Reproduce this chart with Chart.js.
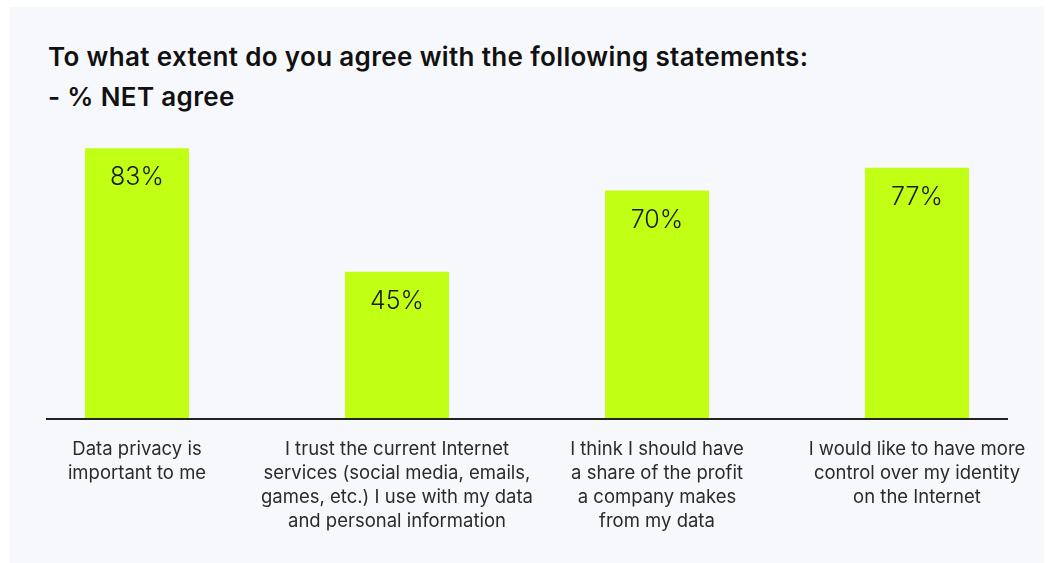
<!DOCTYPE html>
<html>
<head>
<meta charset="utf-8">
<script src="https://cdn.jsdelivr.net/npm/chart.js@4.4.1/dist/chart.umd.min.js"></script>
<style>
  html, body { margin: 0; padding: 0; background: #ffffff; width: 1050px; height: 563px; overflow: hidden; }
  #panel { position: absolute; left: 10px; top: 7px; width: 1034px; height: 556px; background: #f7f8fc; }
  #title { position: absolute; left: 48px; top: 37px; margin: 0; font: 600 26px/40px Inter, sans-serif; letter-spacing: 0.35px; color: #111111; }
  #wrap { position: absolute; left: 0; top: 0; width: 1050px; height: 563px; }
</style>
</head>
<body>
<div id="panel"></div>
<div id="title">To what extent do you agree with the following statements:<br>- % NET agree</div>
<div id="wrap"><canvas id="c" width="1050" height="563"></canvas></div>
<script>
// Statements (each split into the lines shown under its bar)
const statements = [
  ["Data privacy is", "important to me"],
  ["I trust the current Internet", "services (social media, emails,", "games, etc.) I use with my data", "and personal information"],
  ["I think I should have", "a share of the profit", "a company makes", "from my data"],
  ["I would like to have more", "control over my identity", "on the Internet"]
];
// % of respondents who agree (net)
const netAgree = [83, 45, 70, 77];
const valueSuffix = "%";

const FONT = "Inter, 'Noto Sans', sans-serif";

// Baseline rule under the bars, spanning slightly past the outer bars
const baselinePlugin = {
  id: "baseline",
  afterDatasetsDraw(chart) {
    const { ctx, scales } = chart;
    const y0 = scales.y.getPixelForValue(0);
    const xa = scales.x.getPixelForValue(-0.35);
    const xb = scales.x.getPixelForValue(netAgree.length - 1 + 0.35);
    ctx.save();
    ctx.strokeStyle = "#222222";
    ctx.lineWidth = 2;
    ctx.beginPath();
    ctx.moveTo(xa, y0 + 1);
    ctx.lineTo(xb, y0 + 1);
    ctx.stroke();
    ctx.restore();
  }
};

// Value labels printed inside the top of each bar
const valueLabelPlugin = {
  id: "valueLabels",
  afterDatasetsDraw(chart) {
    const { ctx } = chart;
    const meta = chart.getDatasetMeta(0);
    ctx.save();
    ctx.fillStyle = "#1a1a1a";
    ctx.font = "300 25px " + FONT;
    ctx.textAlign = "center";
    ctx.textBaseline = "alphabetic";
    meta.data.forEach((bar, i) => {
      ctx.fillText(netAgree[i] + valueSuffix, bar.x, bar.y + 37);
    });
    ctx.restore();
  }
};

new Chart(document.getElementById("c"), {
  type: "bar",
  data: {
    labels: statements,
    datasets: [{
      data: netAgree,
      backgroundColor: "#c1ff14",
      borderWidth: 0,
      categoryPercentage: 0.4,
      barPercentage: 1.0
    }]
  },
  options: {
    responsive: false,
    devicePixelRatio: 1,
    animation: false,
    layout: { padding: { top: 93, left: 7, right: 3, bottom: 11 } },
    plugins: { legend: { display: false }, tooltip: { enabled: false }, title: { display: false } },
    scales: {
      x: {
        grid: { display: false, drawTicks: false },
        border: { display: false },
        ticks: {
          color: "#2b2b2b",
          padding: 19,
          maxRotation: 0,
          autoSkip: false,
          font: { family: FONT, size: 18.5, weight: "400", lineHeight: "24px" }
        }
      },
      y: {
        display: false,
        min: 0,
        max: 100
      }
    }
  },
  plugins: [baselinePlugin, valueLabelPlugin]
});
</script>
</body>
</html>
